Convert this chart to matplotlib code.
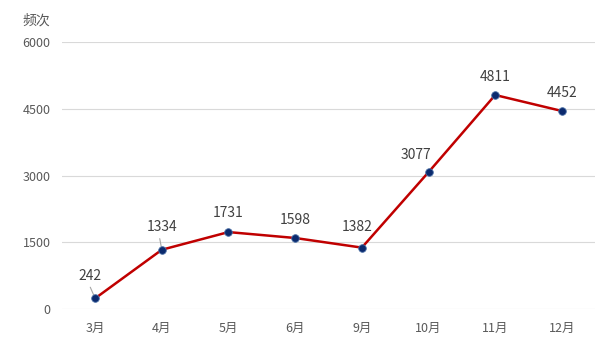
import matplotlib
matplotlib.use("Agg")
import matplotlib.pyplot as plt

plt.rcParams['font.family'] = ['Noto Sans CJK SC', 'DejaVu Sans']

months = ['3月', '4月', '5月', '6月', '9月', '10月', '11月', '12月']
counts = [242, 1334, 1731, 1598, 1382, 3077, 4811, 4452]
yticks = [0, 1500, 3000, 4500, 6000]
# label offsets (points) relative to each marker
offsets = [(-4, 11), (0, 11), (0, 9), (0, 8), (-3, 10), (-9, 7), (0, 8), (0, 8)]
leaders = [True, True, False, False, False, False, False, False]

fig = plt.figure(figsize=(6, 3.45), dpi=100)
ax = fig.add_axes([0.103, 0.104, 0.889, 0.774])

x = list(range(len(months)))
ax.plot(x, counts, color='#C00000', lw=1.8, zorder=3)
ax.scatter(x, counts, s=30, color='#0B2A6E', edgecolors='#4A6FA5', linewidths=0.6, zorder=4)

txt = '#595959'
for i, v in enumerate(counts):
    dx, dy = offsets[i]
    ax.annotate(str(v), (i, v), xytext=(dx, dy), textcoords='offset points',
                ha='center', va='bottom', fontsize=10, color='#404040')
    if leaders[i]:
        ax.annotate('', (i, v), xytext=(dx * 0.5 - 1.5, 8), textcoords='offset points',
                    arrowprops=dict(arrowstyle='-', color='#A6A6A6', lw=0.8,
                                    shrinkA=0, shrinkB=2))

ax.set_xlim(-0.5, len(months) - 0.5)
ax.set_ylim(0, 6000)
ax.set_yticks(yticks)
ax.set_xticks(x)
ax.set_xticklabels(months)
ax.tick_params(axis='both', length=0, colors=txt, labelsize=9)
ax.tick_params(axis='x', pad=9)
ax.tick_params(axis='y', pad=8)
ax.grid(axis='y', color='#D9D9D9', lw=0.8)
ax.set_axisbelow(True)
for s in ax.spines.values():
    s.set_visible(False)

fig.text(0.038, 0.93, '频次', fontsize=10, color=txt)

fig.savefig('out.png', dpi=100)
